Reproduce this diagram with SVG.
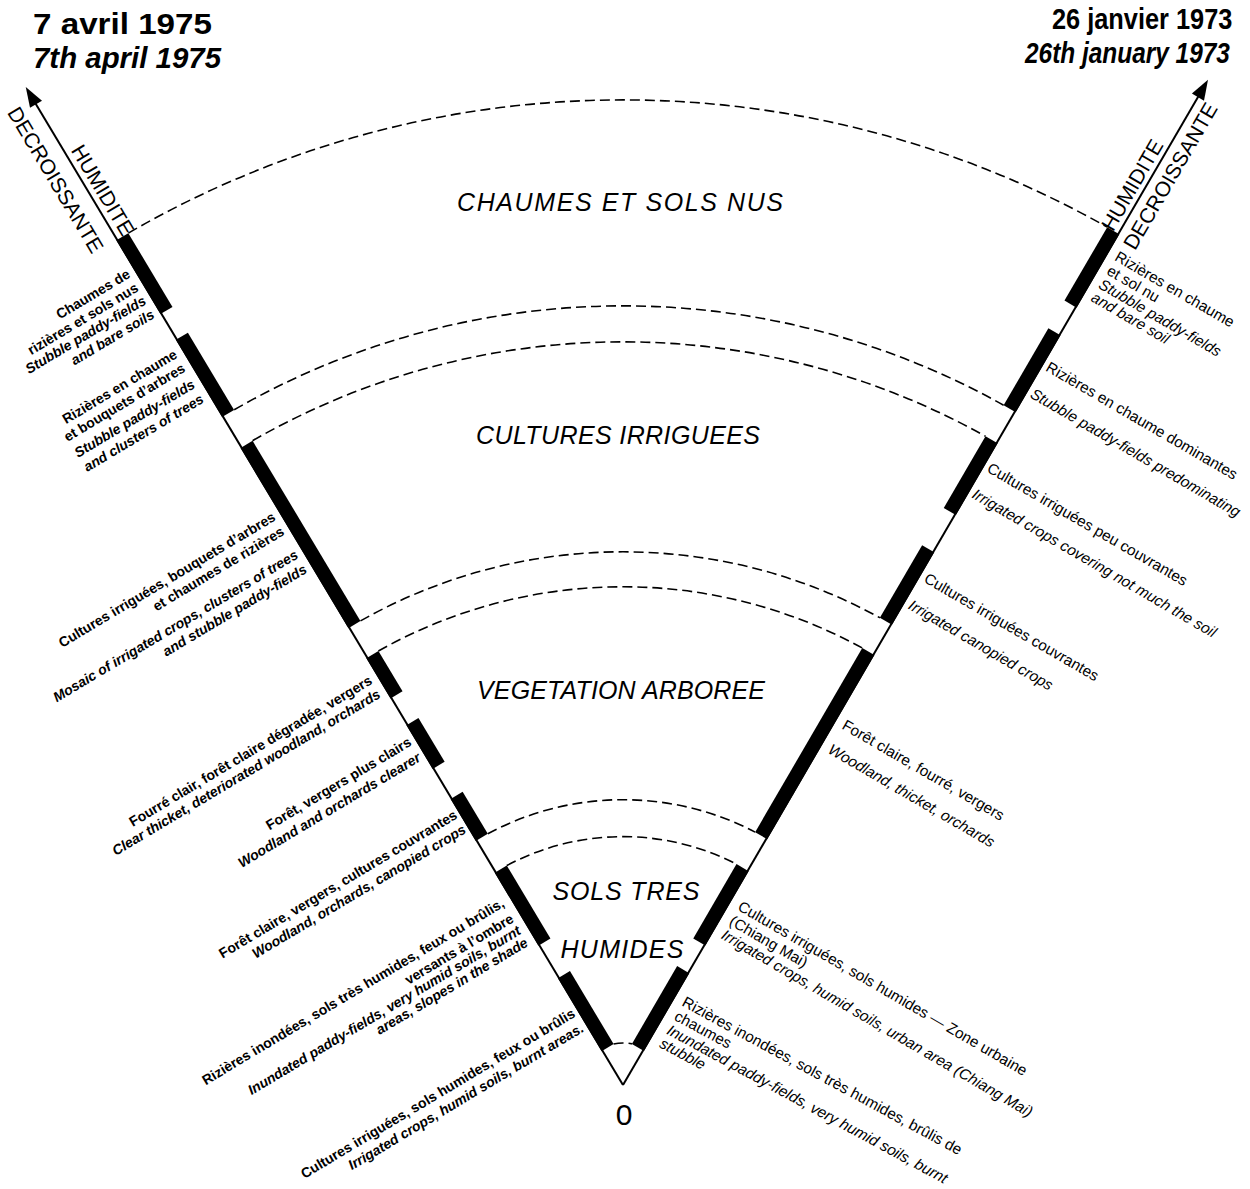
<svg xmlns="http://www.w3.org/2000/svg" width="1250" height="1189" viewBox="0 0 1250 1189">
<style>
text{font-family:"Liberation Sans",Arial,sans-serif;fill:#000}
.ax{stroke:#000;stroke-width:2;fill:none}
.dash{stroke:#000;stroke-width:1.6;fill:none;stroke-dasharray:10 5}
.bar{fill:#000}
.zone{font-size:25px;font-style:italic;text-anchor:middle}
.ll{font-size:14px;font-weight:bold;text-anchor:end}
.rl{font-size:15.3px;text-anchor:start}
.en{font-style:italic}
.axl{font-size:21px;text-anchor:middle}
.date{font-size:30px;font-weight:bold}
</style>
<rect width="1250" height="1189" fill="#fff"/>
<g id="titles">
<text class="date" x="33" y="34" textLength="179" lengthAdjust="spacingAndGlyphs">7 avril 1975</text>
<text class="date en" x="33" y="68" textLength="188" lengthAdjust="spacingAndGlyphs">7th april 1975</text>
<text class="date" transform="translate(1052,29) scale(0.845,1)">26 janvier 1973</text>
<text class="date en" transform="translate(1025,63) scale(0.814,1)">26th january 1973</text>
</g>
<g id="connectors">
<path class="dash" d="M128.4,233.1 A985.1,985.1 0 0 1 1107.2,227.1"/>
<path class="dash" d="M234.2,409.8 A779.1,779.1 0 0 1 1003.6,405.2"/>
<path class="dash" d="M252.6,440.7 A743.1,743.1 0 0 1 985.5,436.3"/>
<path class="dash" d="M360.5,620.9 A533.2,533.2 0 0 1 879.9,617.8"/>
<path class="dash" d="M378.4,651.0 A498.2,498.2 0 0 1 862.3,648.0"/>
<path class="dash" d="M487.8,833.8 A285.3,285.3 0 0 1 755.1,832.1"/>
<path class="dash" d="M506.8,865.5 A248.3,248.3 0 0 1 736.5,864.1"/>
<path class="dash" d="M613.6,1044.0 A42.1,42.1 0 0 1 631.9,1043.9"/>
</g>
<g id="left-axis" transform="translate(623,1085) rotate(-30.9)">
<line class="ax" x1="0" y1="0" x2="0" y2="-1146"/>
<polygon points="0,-1163 -7,-1143 7,-1143" fill="#000"/>
<rect class="bar" x="-1" y="-985" width="14" height="86"/>
<rect class="bar" x="-1" y="-869" width="14" height="90"/>
<rect class="bar" x="-1" y="-743" width="14" height="210"/>
<rect class="bar" x="-1" y="-498" width="14" height="47"/>
<rect class="bar" x="-1" y="-420" width="14" height="51"/>
<rect class="bar" x="-1" y="-334" width="14" height="49"/>
<rect class="bar" x="-1" y="-248" width="14" height="85"/>
<rect class="bar" x="-1" y="-125" width="14" height="85"/>
<text class="axl" transform="rotate(90)" x="-1035" y="-5.9">HUMIDITE</text>
<text class="axl" transform="rotate(90)" x="-1068" y="29.3">DECROISSANTE</text>
<g id="left-labels">
<text class="ll"><tspan x="-7" y="-946">Chaumes de</tspan><tspan x="-7" y="-930">rizières et sols nus</tspan><tspan class="en" x="-7" y="-915">Stubble paddy-fields</tspan><tspan class="en" x="-7" y="-899">and bare soils</tspan></text>
<text class="ll"><tspan x="-8" y="-853">Rizières en chaume</tspan><tspan x="-8" y="-837">et bouquets d’arbres</tspan><tspan class="en" x="-8" y="-818">Stubble paddy-fields</tspan><tspan class="en" x="-8" y="-801">and clusters of trees</tspan></text>
<text class="ll"><tspan x="-7" y="-663">Cultures irriguées, bouquets d’arbres</tspan><tspan x="-7" y="-646">et chaumes de rizières</tspan><tspan class="en" x="-7" y="-619">Mosaic of irrigated crops, clusters of trees</tspan><tspan class="en" x="-7" y="-602">and stubble paddy-fields</tspan></text>
<text class="ll"><tspan x="-8" y="-473">Fourré clair, forêt claire dégradée, vergers</tspan><tspan class="en" x="-8" y="-457">Clear thicket, deteriorated woodland, orchards</tspan></text>
<text class="ll"><tspan x="-6" y="-400">Forêt, vergers plus clairs</tspan><tspan class="en" x="-6" y="-382">Woodland and orchards clearer</tspan></text>
<text class="ll"><tspan x="-4" y="-314">Forêt claire, vergers, cultures couvrantes</tspan><tspan class="en" x="-4" y="-297">Woodland, orchards, canopied crops</tspan></text>
<text class="ll"><tspan x="-9" y="-214">Rizières inondées, sols très humides, feux ou brûlis,</tspan><tspan x="-9" y="-196">versants à l’ombre</tspan><tspan class="en" x="-9" y="-182">Inundated paddy-fields, very humid soils, burnt</tspan><tspan class="en" x="-9" y="-168">areas, slopes in the shade</tspan></text>
<text class="ll"><tspan x="-5" y="-83">Cultures irriguées, sols humides, feux ou brûlis</tspan><tspan class="en" x="-5" y="-66">Irrigated crops, humid soils, burnt areas.</tspan></text>
</g>
</g>
<g id="right-axis" transform="translate(623,1085) rotate(30.2)">
<line class="ax" x1="0" y1="0" x2="0" y2="-1146"/>
<polygon points="0,-1163 -7,-1143 7,-1143" fill="#000"/>
<rect class="bar" x="-13" y="-985" width="14" height="85"/>
<rect class="bar" x="-13" y="-868" width="14" height="89"/>
<rect class="bar" x="-13" y="-743" width="14" height="83"/>
<rect class="bar" x="-13" y="-617" width="14" height="84"/>
<rect class="bar" x="-13" y="-498" width="14" height="213"/>
<rect class="bar" x="-13" y="-248" width="14" height="86"/>
<rect class="bar" x="-13" y="-130" width="14" height="90"/>
<text class="axl" transform="rotate(-90)" x="1034" y="-5.3">HUMIDITE</text>
<text class="axl" transform="rotate(-90)" x="1061" y="23.1">DECROISSANTE</text>
<g id="right-labels">
<text class="rl"><tspan x="9" y="-960">Rizières en chaume</tspan><tspan x="9" y="-944">et sol nu</tspan><tspan class="en" x="9" y="-928">Stubble paddy-fields</tspan><tspan class="en" x="9" y="-913">and bare soil</tspan></text>
<text class="rl"><tspan x="5" y="-830">Rizières en chaume dominantes</tspan><tspan class="en" x="5" y="-799">Stubble paddy-fields predominating</tspan></text>
<text class="rl"><tspan x="5" y="-713">Cultures irriguées peu couvrantes</tspan><tspan class="en" x="5" y="-683">Irrigated crops covering not much the soil</tspan></text>
<text class="rl"><tspan x="6" y="-586">Cultures irriguées couvrantes</tspan><tspan class="en" x="6" y="-555">Irrigated canopied crops</tspan></text>
<text class="rl"><tspan x="9" y="-418">Forêt claire, fourré, vergers</tspan><tspan class="en" x="9" y="-390">Woodland, thicket, orchards</tspan></text>
<text class="rl"><tspan x="10" y="-209">Cultures irriguées, sols humides — Zone urbaine</tspan><tspan x="10" y="-192">(Chiang Mai)</tspan><tspan class="en" x="10" y="-176">Irrigated crops, humid soils, urban area (Chiang Mai)</tspan></text>
<text class="rl" transform="rotate(-1.8 10 -98)"><tspan x="10" y="-98">Rizières inondées, sols très humides, brûlis de</tspan><tspan x="10" y="-82">chaumes</tspan><tspan class="en" x="10" y="-66">Inundated paddy-fields, very humid soils, burnt</tspan><tspan class="en" x="10" y="-51">stubble</tspan></text>
</g>
</g>
<g id="zones">
<text class="zone" x="620" y="211" textLength="326" lengthAdjust="spacing">CHAUMES ET SOLS NUS</text>
<text class="zone" x="618" y="444" textLength="284" lengthAdjust="spacing">CULTURES IRRIGUEES</text>
<text class="zone" x="621" y="699" textLength="288" lengthAdjust="spacing">VEGETATION ARBOREE</text>
<text class="zone" x="626" y="900" textLength="147" lengthAdjust="spacing">SOLS TRES</text>
<text class="zone" x="622" y="958" textLength="123" lengthAdjust="spacing">HUMIDES</text>
<text x="624" y="1125" font-size="30" text-anchor="middle">0</text>
</g>
</svg>
